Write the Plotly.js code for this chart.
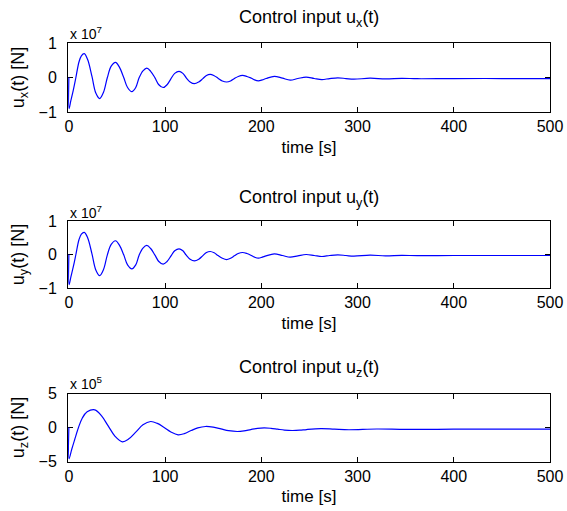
<!DOCTYPE html>
<html>
<head>
<meta charset="utf-8">
<script src="https://cdn.plot.ly/plotly-3.0.1.min.js"></script>
<style>html,body{margin:0;padding:0;background:#fff;}#chart{width:567px;height:511px;}</style>
</head>
<body>
<div id="chart"></div>
<script>
// Values (ux, uy in units of 1e7 N; uz in units of 1e5 N)
var tX = [0, 0.2, 2, 4.5, 7.3, 10.5, 13, 16, 19.5, 24, 28, 32, 36, 40, 44, 48.5, 52.5, 57, 61, 65.5, 69.5, 73, 77, 81, 85, 89.5, 93.5, 98, 102, 106, 110, 114.5, 118.5, 122, 126, 130.5, 135, 139, 143, 147, 151, 155, 159.5, 164, 168, 172, 176, 180.5, 185, 189, 193, 197, 201, 205, 213.5, 222, 230, 238, 246.5, 255, 263, 271, 279.5, 288, 296, 313, 329, 346, 362, 400, 450, 500];
var uxVals = [0, -0.9, -0.68, -0.38, 0.0, 0.45, 0.63, 0.69, 0.52, 0.03, -0.45, -0.61, -0.43, 0.0, 0.33, 0.44, 0.3, 0.0, -0.29, -0.41, -0.29, -0.01, 0.19, 0.27, 0.18, -0.01, -0.21, -0.29, -0.21, -0.04, 0.12, 0.18, 0.12, -0.01, -0.13, -0.18, -0.13, -0.04, 0.06, 0.09, 0.05, -0.02, -0.1, -0.13, -0.1, -0.03, 0.03, 0.06, 0.03, -0.01, -0.07, -0.095, -0.07, -0.03, 0.035, -0.02, -0.075, -0.03, 0.01, -0.03, -0.06, -0.03, -0.01, -0.03, -0.05, -0.02, -0.04, -0.025, -0.035, -0.03, -0.03, -0.03];
var uyVals = [0, -0.9, -0.68, -0.38, 0.0, 0.44, 0.61, 0.66, 0.5, 0.02, -0.46, -0.63, -0.45, -0.01, 0.3, 0.41, 0.28, -0.01, -0.31, -0.43, -0.31, -0.02, 0.19, 0.27, 0.18, -0.02, -0.21, -0.29, -0.21, -0.05, 0.11, 0.17, 0.11, -0.02, -0.14, -0.19, -0.14, -0.04, 0.06, 0.09, 0.05, -0.03, -0.11, -0.15, -0.11, -0.04, 0.03, 0.06, 0.03, -0.02, -0.08, -0.11, -0.08, -0.04, 0.02, -0.03, -0.08, -0.04, 0.0, -0.03, -0.06, -0.03, -0.01, -0.03, -0.05, -0.02, -0.04, -0.025, -0.035, -0.03, -0.03, -0.03];
var tZ = [0, 0.2, 3, 6, 10, 14, 19, 27, 34, 41, 48, 55.5, 62, 70, 77, 85, 92, 99, 106, 113.5, 120, 127, 134, 142, 150, 158, 166, 175, 182, 189, 196, 203, 210, 217, 224, 232, 240, 247, 262, 276, 291, 320, 350, 400, 450, 500];
var uzVals = [0, -4.6, -3.2, -1.8, 0.0, 1.4, 2.3, 2.6, 1.7, 0.2, -1.3, -2.1, -1.7, -0.6, 0.4, 0.88, 0.6, 0.0, -0.65, -1.07, -0.9, -0.45, -0.05, 0.15, 0.05, -0.2, -0.47, -0.59, -0.5, -0.3, -0.12, -0.05, -0.12, -0.25, -0.38, -0.44, -0.4, -0.3, -0.17, -0.25, -0.33, -0.22, -0.28, -0.25, -0.25, -0.25];
var xTicks = [0, 100, 200, 300, 400, 500];
var titles = ['Control input u<sub>x</sub>(t)', 'Control input u<sub>y</sub>(t)', 'Control input u<sub>z</sub>(t)'];
var yTitles = ['u<sub>x</sub>(t) [N]', 'u<sub>y</sub>(t) [N]', 'u<sub>z</sub>(t) [N]'];
var exps = ['x 10<sup>7</sup>', 'x 10<sup>7</sup>', 'x 10<sup>5</sup>'];

var H = 511;
function py(p){ return 1 - p / H; }

var lineStyle = {color: '#0000ff', width: 1.2, shape: 'spline', smoothing: 1};
var traces = [
  {x: tX, y: uxVals, type: 'scatter', mode: 'lines', line: lineStyle, xaxis: 'x', yaxis: 'y', hoverinfo: 'none'},
  {x: tX, y: uyVals, type: 'scatter', mode: 'lines', line: lineStyle, xaxis: 'x2', yaxis: 'y2', hoverinfo: 'none'},
  {x: tZ, y: uzVals, type: 'scatter', mode: 'lines', line: lineStyle, xaxis: 'x3', yaxis: 'y3', hoverinfo: 'none'}
];

function xAx(anchor){
  return {anchor: anchor, domain: [0, 1], range: [-0.9, 500], tickvals: xTicks, ticks: 'inside', ticklen: 5,
    tickcolor: '#000', showline: true, linecolor: '#000', linewidth: 1, mirror: 'ticks', showgrid: false,
    zeroline: false, layer: 'below traces', tickfont: {size: 16, color: '#000'},
    title: {text: 'time [s]', font: {size: 17, color: '#000'}, standoff: 6}};
}
function yAx(anchor, dom, rng, dt, title){
  return {anchor: anchor, domain: dom, range: rng, dtick: dt, tick0: 0, ticks: 'inside', ticklen: 5,
    tickcolor: '#000', showline: true, linecolor: '#000', linewidth: 1, mirror: 'ticks', showgrid: false,
    zeroline: false, layer: 'below traces', tickfont: {size: 16, color: '#000'}, ticklabelstandoff: 7,
    title: {text: title, font: {size: 18, color: '#000'}, standoff: 9}};
}

var doms = [[py(112), py(43)], [py(288), py(221)], [py(461.5), py(393.5)]];
var titleY = [18, 198, 368];
var expY = [33, 212, 383];
var ann = [];
for (var i = 0; i < 3; i++) {
  ann.push({xref: 'paper', yref: 'paper', x: 0.5, y: py(titleY[i]), xanchor: 'center', yanchor: 'middle',
    text: titles[i], showarrow: false, font: {size: 18, color: '#000'}});
  ann.push({xref: 'paper', yref: 'paper', x: 0, y: py(expY[i]), xanchor: 'left', yanchor: 'middle',
    text: exps[i], showarrow: false, font: {size: 14, color: '#000'}});
}

var layout = {
  width: 567, height: 511,
  margin: {l: 68, r: 17, t: 0, b: 0},
  paper_bgcolor: '#fff', plot_bgcolor: '#fff',
  font: {family: '"Liberation Sans", Arial, Helvetica, sans-serif', color: '#000'},
  showlegend: false,
  xaxis: xAx('y'), xaxis2: xAx('y2'), xaxis3: xAx('y3'),
  yaxis: yAx('x', doms[0], [-1, 1], 1, yTitles[0]),
  yaxis2: yAx('x2', doms[1], [-1, 1], 1, yTitles[1]),
  yaxis3: yAx('x3', doms[2], [-5, 5], 5, yTitles[2]),
  annotations: ann
};

Plotly.newPlot('chart', traces, layout, {staticPlot: true, displayModeBar: false});
</script>
</body>
</html>
